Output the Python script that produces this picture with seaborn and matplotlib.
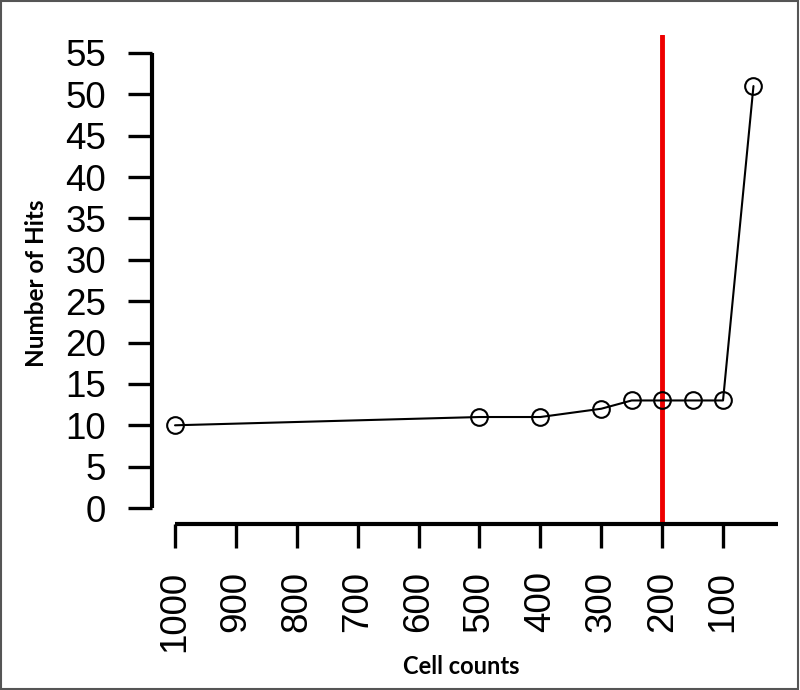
import matplotlib
matplotlib.use("Agg")
import matplotlib.pyplot as plt
import seaborn as sns
import pandas as pd

# data
cell_counts = [1000, 500, 400, 300, 250, 200, 150, 100, 50]
hits = [10, 11, 11, 12, 13, 13, 13, 13, 51]
x_ticks = [1000, 900, 800, 700, 600, 500, 400, 300, 200, 100]
y_ticks = [0, 5, 10, 15, 20, 25, 30, 35, 40, 45, 50, 55]
cutoff = 200

df = pd.DataFrame({'cells': cell_counts, 'hits': hits})

sns.set_style('white')
plt.rcParams['font.family'] = ['Liberation Sans', 'DejaVu Sans']

W, H = 800, 690
fig = plt.figure(figsize=(W / 100, H / 100), dpi=100)
# axes placed in pixels: left=152, right=790, bottom=524, top=35
ax = fig.add_axes([152 / W, 1 - 524 / H, (790 - 152) / W, (524 - 35) / H])

sns.lineplot(data=df, x='cells', y='hits', ax=ax, color='black', linewidth=1.5,
             marker='o', markersize=12, markerfacecolor='none',
             markeredgecolor='black', markeredgewidth=1.5)
ax.axvline(cutoff, color='#ee0000', linewidth=3.5, zorder=1)

ax.set_xlim(1037.8, -10)
ax.set_ylim(-1.93, 57.17)

ax.set_xticks(x_ticks)
ax.set_xticklabels([str(v) for v in x_ticks], rotation=90)
ax.set_yticks(y_ticks)
ax.set_yticklabels([str(v) for v in y_ticks])

for side in ['top', 'right']:
    ax.spines[side].set_visible(False)
for side in ['left', 'bottom']:
    ax.spines[side].set_linewidth(3)
    ax.spines[side].set_color('black')
    ax.spines[side].set_capstyle('butt')
ax.spines['left'].set_bounds(0, 55)
ax.spines['bottom'].set_bounds(1000, 10)

ax.tick_params(axis='both', direction='out', length=17, width=2.4,
               color='black', labelcolor='black', labelsize=26.5,
               left=True, bottom=True)
ax.tick_params(axis='y', pad=16)
ax.tick_params(axis='x', pad=17)

ax.set_xlabel('')
ax.set_ylabel('')
fig.text(461 / W, 1 - 666 / H, 'Cell counts', ha='center', va='center',
         fontsize=17, fontweight='bold', color='black', family=['Lato', 'DejaVu Sans'])
fig.text(37 / W, 1 - 283 / H, 'Number of Hits', ha='center', va='center',
         rotation=90, fontsize=17.5, fontweight='bold', color='black',
         family=['Lato', 'DejaVu Sans'])

# thin grey frame around the whole picture
fig.patches.append(plt.Rectangle((0.001, 0.001), 0.997, 0.997, transform=fig.transFigure,
                                 fill=False, edgecolor='#555555', linewidth=1.5))

fig.savefig('out.png', dpi=100)
